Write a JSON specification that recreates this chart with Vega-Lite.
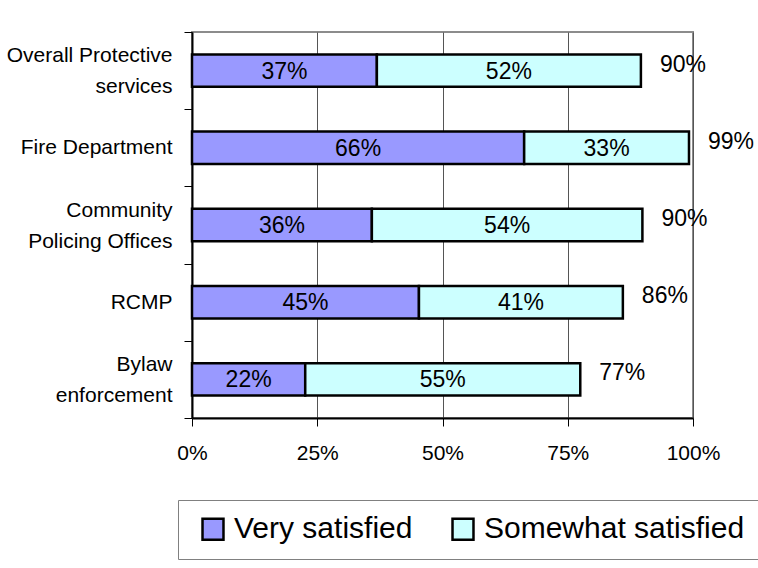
{
  "$schema": "https://vega.github.io/schema/vega-lite/v6.json",
  "autosize": {"type": "none"},
  "width": 501,
  "height": 386,
  "padding": {"left": 192, "top": 32, "right": 65, "bottom": 150},
  "background": "white",
  "config": {
    "font": "Liberation Sans",
    "view": {"stroke": "#8c8c8c", "strokeWidth": 2},
    "axis": {"labelFont": "Liberation Sans", "labelColor": "black"}
  },
  "datasets": {
    "segments": [
      {"category": "Overall Protective services", "type": "Very satisfied", "order": 1, "value": 0.369, "label": "37%"},
      {"category": "Overall Protective services", "type": "Somewhat satisfied", "order": 2, "value": 0.527, "label": "52%"},
      {"category": "Fire Department", "type": "Very satisfied", "order": 1, "value": 0.663, "label": "66%"},
      {"category": "Fire Department", "type": "Somewhat satisfied", "order": 2, "value": 0.329, "label": "33%"},
      {"category": "Community Policing Offices", "type": "Very satisfied", "order": 1, "value": 0.359, "label": "36%"},
      {"category": "Community Policing Offices", "type": "Somewhat satisfied", "order": 2, "value": 0.54, "label": "54%"},
      {"category": "RCMP", "type": "Very satisfied", "order": 1, "value": 0.453, "label": "45%"},
      {"category": "RCMP", "type": "Somewhat satisfied", "order": 2, "value": 0.407, "label": "41%"},
      {"category": "Bylaw enforcement", "type": "Very satisfied", "order": 1, "value": 0.226, "label": "22%"},
      {"category": "Bylaw enforcement", "type": "Somewhat satisfied", "order": 2, "value": 0.549, "label": "55%"}
    ],
    "totals": [
      {"category": "Overall Protective services", "total": 0.896, "label": "90%"},
      {"category": "Fire Department", "total": 0.992, "label": "99%"},
      {"category": "Community Policing Offices", "total": 0.899, "label": "90%"},
      {"category": "RCMP", "total": 0.86, "label": "86%"},
      {"category": "Bylaw enforcement", "total": 0.775, "label": "77%"}
    ]
  },
  "encoding": {
    "y": {
      "field": "category",
      "type": "nominal",
      "sort": ["Overall Protective services", "Fire Department", "Community Policing Offices", "RCMP", "Bylaw enforcement"],
      "scale": {"paddingInner": 0, "paddingOuter": 0},
      "axis": {
        "title": null,
        "tickBand": "extent",
        "tickSize": 8,
        "tickColor": "black",
        "tickWidth": 1,
        "domainColor": "black",
        "domainWidth": 2,
        "labelFontSize": 21,
        "labelPadding": 12,
        "labelLineHeight": 31,
        "labelAlign": "right",
        "labelBaseline": "middle",
        "labelOffset": {"expr": "indexof(['Overall Protective services', 'Community Policing Offices', 'Bylaw enforcement'], datum.value) >= 0 ? -15 : 0"},
        "labelExpr": "datum.value == 'Overall Protective services' ? ['Overall Protective', 'services'] : datum.value == 'Community Policing Offices' ? ['Community', 'Policing Offices'] : datum.value == 'Bylaw enforcement' ? ['Bylaw', 'enforcement'] : datum.value"
      }
    }
  },
  "layer": [
    {
      "data": {"name": "segments"},
      "transform": [
        {"stack": "value", "groupby": ["category"], "sort": [{"field": "order"}], "as": ["x0", "x1"]},
        {"calculate": "(datum.x0 + datum.x1) / 2", "as": "mid"}
      ],
      "layer": [
        {
          "mark": {"type": "bar", "height": {"band": 0.42}, "stroke": "black", "strokeWidth": 2.5},
          "encoding": {
            "x": {
              "field": "x0",
              "type": "quantitative",
              "scale": {"domain": [0, 1], "nice": false},
              "axis": {
                "title": null,
                "values": [0, 0.25, 0.5, 0.75, 1],
                "format": ".0%",
                "grid": true,
                "gridColor": "#555555",
                "gridWidth": 1,
                "tickSize": 8,
                "tickColor": "black",
                "domainColor": "black",
                "domainWidth": 2,
                "labelFontSize": 21,
                "labelPadding": 16,
                "labelFlush": false
              }
            },
            "x2": {"field": "x1"},
            "fill": {
              "field": "type",
              "type": "nominal",
              "sort": ["Very satisfied", "Somewhat satisfied"],
              "scale": {"domain": ["Very satisfied", "Somewhat satisfied"], "range": ["#9999FF", "#CCFFFF"]},
              "legend": {
                "title": null,
                "orient": "none",
                "legendX": -14,
                "legendY": 468,
                "direction": "horizontal",
                "strokeColor": "#808080",
                "padding": 14,
                "symbolOffset": 6,
                "symbolType": "square",
                "symbolSize": 440,
                "symbolStrokeColor": "black",
                "symbolStrokeWidth": 2.5,
                "labelFontSize": 30,
                "labelFont": "Liberation Sans",
                "labelColor": "black",
                "labelOffset": 6,
                "labelLimit": 600,
                "columnPadding": 29
              }
            },
            "order": {"field": "order"}
          }
        },
        {
          "mark": {"type": "text", "fontSize": 23, "color": "black", "align": "center", "baseline": "middle", "dy": 1},
          "encoding": {
            "x": {"field": "mid", "type": "quantitative"},
            "text": {"field": "label"}
          }
        }
      ]
    },
    {
      "data": {"name": "totals"},
      "mark": {"type": "text", "fontSize": 23, "color": "black", "align": "left", "baseline": "middle", "dx": 19, "dy": -6},
      "encoding": {
        "x": {"field": "total", "type": "quantitative"},
        "text": {"field": "label"}
      }
    }
  ]
}
